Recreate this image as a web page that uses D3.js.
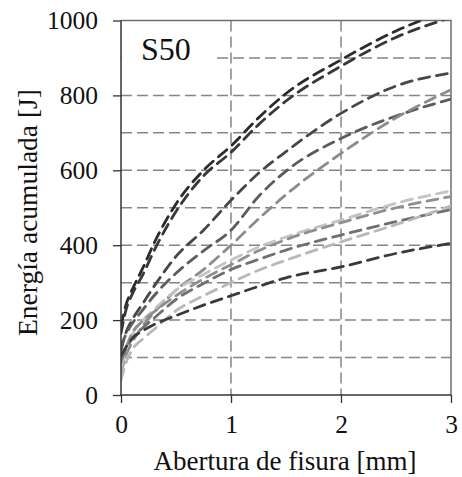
<!DOCTYPE html>
<html>
<head>
<meta charset="utf-8">
<script src="https://cdn.jsdelivr.net/npm/d3@7"></script>
<style>
  body { margin: 0; background: #fff; }
  text { font-family: "Liberation Serif", "Times New Roman", serif; }
</style>
</head>
<body>
<script>
/* DATA */
// crack opening [mm] at which each curve was read
var openings = [0, 0.05, 0.1, 0.2, 0.3, 0.5, 0.75, 1, 1.25, 1.5, 2, 2.5, 3];

// accumulated energy [J] per specimen
var energyA1 = [185, 245, 280, 340, 405, 510, 600, 665, 740, 805, 895, 972, 1030];
var energyA2 = [165, 232, 268, 322, 385, 490, 585, 648, 722, 785, 878, 955, 1008];
var energyB  = [120, 170, 200, 245, 290, 370, 440, 520, 592, 650, 752, 825, 860];
var energyC1 = [130, 165, 190, 228, 265, 325, 385, 440, 530, 598, 685, 745, 790];
var energyC2 = [60, 110, 140, 185, 220, 280, 335, 400, 470, 535, 645, 740, 815];
var energyD1 = [70, 125, 160, 200, 228, 280, 322, 360, 395, 422, 467, 512, 545];
var energyD4 = [85, 130, 165, 198, 222, 265, 310, 348, 385, 415, 460, 500, 530];
var energyD2 = [95, 125, 150, 180, 205, 255, 298, 335, 362, 387, 427, 463, 495];
var energyD3 = [40, 90, 120, 150, 175, 225, 265, 300, 333, 360, 409, 455, 505];
var energyE  = [105, 130, 150, 172, 188, 212, 240, 265, 290, 313, 342, 378, 405];

var seriesNames = ['A1', 'A2', 'B', 'C1', 'C2', 'D1', 'D4', 'D2', 'D3', 'E'];
var seriesValues = [energyA1, energyA2, energyB, energyC1, energyC2, energyD1, energyD4, energyD2, energyD3, energyE];
var seriesColors = ['#2b2b2b', '#383838', '#474747', '#5c5c5c', '#8c8c8c', '#c4c4c4', '#8f8f8f', '#707070', '#b8b8b8', '#3a3a3a'];

var xTicks = [0, 1, 2, 3];
var yTicks = [0, 200, 400, 600, 800, 1000];
var yGrid = [100, 200, 300, 400, 500, 600, 700, 800, 900];
var xGrid = [1, 2];

var panelLabel = 'S50';
var xTitle = 'Abertura de fisura [mm]';
var yTitle = 'Energía acumulada [J]';

/* LAYOUT */
var width = 462, height = 477;
var plotLeft = 121, plotRight = 451, plotTop = 20.5, plotBottom = 395;

var x = d3.scaleLinear().domain([0, 3]).range([plotLeft, plotRight]);
var y = d3.scaleLinear().domain([0, 1000]).range([plotBottom, plotTop]);

var svg = d3.select('body').append('svg')
    .attr('width', width)
    .attr('height', height);

svg.append('defs').append('clipPath').attr('id', 'plotClip')
  .append('rect')
    .attr('x', plotLeft).attr('y', plotTop)
    .attr('width', plotRight - plotLeft).attr('height', plotBottom - plotTop);

// gridlines
svg.append('g').selectAll('line').data(yGrid).join('line')
    .attr('x1', plotLeft).attr('x2', plotRight)
    .attr('y1', d => y(d)).attr('y2', d => y(d))
    .attr('stroke', '#858585')
    .attr('stroke-width', 1.5)
    .attr('stroke-dasharray', '11,5');

svg.append('g').selectAll('line').data(xGrid).join('line')
    .attr('x1', d => x(d)).attr('x2', d => x(d))
    .attr('y1', plotTop).attr('y2', plotBottom)
    .attr('stroke', '#858585')
    .attr('stroke-width', 1.5)
    .attr('stroke-dasharray', '11,5');

// top and right frame
svg.append('path')
    .attr('d', `M${plotLeft},${plotTop}H${plotRight}V${plotBottom}`)
    .attr('fill', 'none')
    .attr('stroke', '#6e6e6e')
    .attr('stroke-width', 1.5);

// label box hides the grid behind S50
svg.append('rect')
    .attr('x', plotLeft + 1).attr('y', plotTop + 2)
    .attr('width', 92).attr('height', 46)
    .attr('fill', '#fff');

svg.append('text')
    .attr('x', 141).attr('y', 60)
    .attr('font-size', 32)
    .attr('fill', '#111')
    .text(panelLabel);

// curves
var line = d3.line()
    .x((d, i) => x(openings[i]))
    .y(d => y(d))
    .curve(d3.curveMonotoneX);

svg.append('g').attr('clip-path', 'url(#plotClip)')
  .selectAll('path').data(seriesValues).join('path')
    .attr('d', d => line(d))
    .attr('fill', 'none')
    .attr('stroke', (d, i) => seriesColors[i])
    .attr('stroke-width', 2.8)
    .attr('stroke-linecap', 'round')
    .attr('stroke-dasharray', '11,7');

// axes
var xAxis = svg.append('g')
    .attr('transform', `translate(0,${plotBottom})`)
    .call(d3.axisBottom(x).tickValues(xTicks).tickSize(8).tickPadding(12).tickFormat(d3.format('d')));
var yAxis = svg.append('g')
    .attr('transform', `translate(${plotLeft},0)`)
    .call(d3.axisLeft(y).tickValues(yTicks).tickSize(8).tickPadding(15).tickFormat(d3.format('d')));

[xAxis, yAxis].forEach(function (g) {
    g.select('.domain').attr('stroke', '#333').attr('stroke-width', 1.5);
    g.selectAll('.tick line').attr('stroke', '#333').attr('stroke-width', 1.3);
    g.selectAll('.tick text')
        .attr('fill', '#111')
        .style('font-family', '"Liberation Serif", serif')
        .style('font-size', '25.5px');
});
xAxis.select('.domain').attr('d', `M${plotLeft},0H${plotRight}`);
yAxis.select('.domain').attr('d', `M0,${plotBottom}V${plotTop}`);

// axis titles
svg.append('text')
    .attr('x', 285).attr('y', 470)
    .attr('text-anchor', 'middle')
    .attr('font-size', 27)
    .attr('fill', '#111')
    .text(xTitle);

svg.append('text')
    .attr('transform', 'translate(37,212.5) rotate(-90)')
    .attr('text-anchor', 'middle')
    .attr('font-size', 27.5)
    .attr('fill', '#111')
    .text(yTitle);
</script>
</body>
</html>
